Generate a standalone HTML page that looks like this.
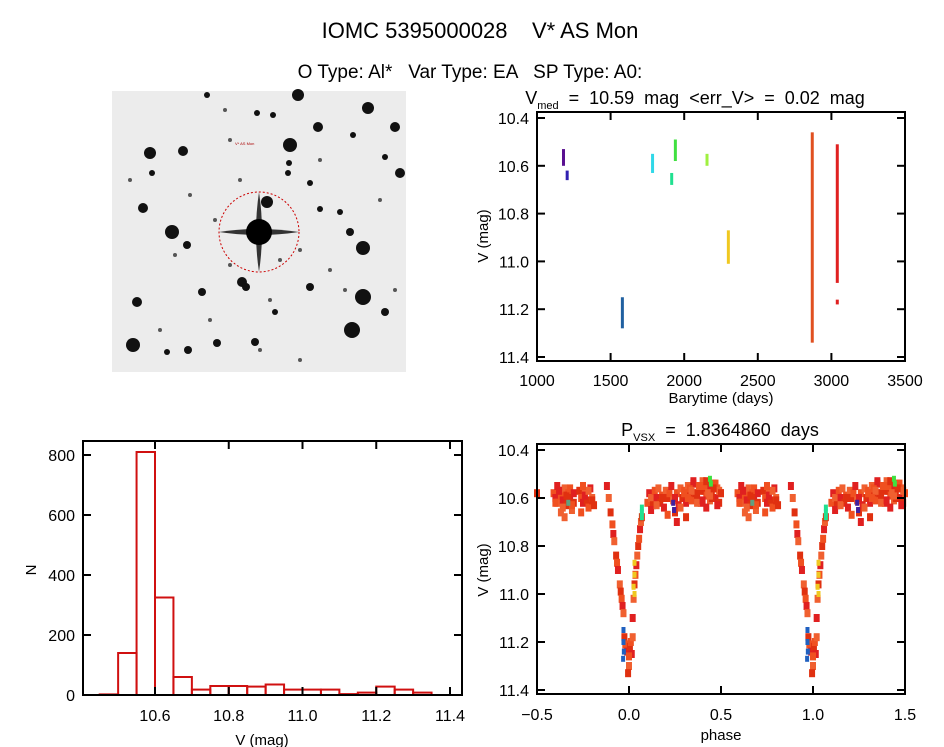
<!DOCTYPE html>
<html><head><meta charset="utf-8"><style>
html,body{margin:0;padding:0;background:#fff;}
svg{display:block;font-family:"Liberation Sans",sans-serif;}
text{white-space:pre;}
</style></head><body>
<svg id="c" width="944" height="747" viewBox="0 0 944 747" xmlns="http://www.w3.org/2000/svg">
<text x="480" y="38" font-size="22" text-anchor="middle" xml:space="preserve">IOMC 5395000028    V* AS Mon</text>
<text x="470" y="78" font-size="19" text-anchor="middle" xml:space="preserve">O Type: Al*   Var Type: EA   SP Type: A0:</text>
<g id="img"><rect x="112" y="91" width="294" height="281" fill="#ececec"/></g>
<g id="tp"></g>
<g id="hp"></g>
<g id="pp"></g>
</svg>
<script>
const starX=[298,368,290,150,183,318,395,267,172,143,242,363,363,352,133,137,202,255,400,385,187,350,310,275,167,188,217,207,257,273,289,288,310,320,340,152,385,353,246,
 225,240,190,300,330,270,210,160,380,395,230,280,320,215,175,130,345,260,300,230];
const starY=[95,108,145,153,151,127,127,202,232,208,282,248,297,330,345,302,292,342,173,312,245,232,287,312,352,350,343,95,113,115,163,173,183,209,212,173,157,135,287,
 110,180,195,250,270,300,320,330,200,290,265,260,160,220,255,180,290,350,360,140];
const starR=[6,6,7,6,5,5,5,6,7,5,5,7,8,8,7,5,4,4,5,4,4,4,4,3,3,4,4,3,3,3,3,3,3,3,3,3,3,3,4,
 2,2,2,2,2,2,2,2,2,2,2,2,2,2,2,2,2,2,2,2];
const NS="http://www.w3.org/2000/svg";
function el(t,a,p){const e=document.createElementNS(NS,t);for(const k in a)e.setAttribute(k,a[k]);p.appendChild(e);return e;}
const img=document.getElementById('img');
for(let i=0;i<starX.length;i++){
 const s=el('circle',{cx:starX[i],cy:starY[i],r:starR[i],fill:starR[i]<3?'#555':'#111'},img);
 
 
}
const cs=el('g',{},img);


el('path',{d:'M219 232 Q259 226 299 232 Q259 238 219 232Z',fill:'#333'},cs);
el('path',{d:'M259 192 Q265 232 259 272 Q253 232 259 192Z',fill:'#333'},cs);
el('circle',{cx:259,cy:232,r:13,fill:'#000'},cs);
const circ=el('circle',{cx:259,cy:232,r:40,fill:'none',stroke:'#c00','stroke-width':1,'stroke-dasharray':'2 2'},img);


el('text',{x:235,y:145,'font-size':4,fill:'#a00'},img).textContent='V* AS Mon';

const streakTime=[1180,1205,1580,1785,1915,1940,2155,2300,2870,3040,3040];
const streakMin=[10.53,10.62,11.15,10.55,10.63,10.49,10.55,10.87,10.46,10.51,11.16];
const streakMax=[10.60,10.66,11.28,10.63,10.68,10.58,10.60,11.01,11.34,11.09,11.18];
const streakColor=['#5a1090','#3020b0','#2060a0','#30d8e8','#20e090','#40e040','#a0f040','#f0c820','#e05020','#e02020','#e02020'];
const yTicks=[10.4,10.6,10.8,11.0,11.2,11.4];
const yTickLabels=['10.4','10.6','10.8','11.0','11.2','11.4'];
const tTicks=[1000,1500,2000,2500,3000,3500];

const binStart=[10.45,10.5,10.55,10.6,10.65,10.7,10.75,10.8,10.85,10.9,10.95,11.0,11.05,11.1,11.15,11.2,11.25,11.3,11.35];
const binCount=[2,140,810,325,60,18,30,30,28,35,18,18,18,3,8,28,18,8,0];
const hxTicks=[10.6,10.8,11.0,11.2,11.4];
const hyTicks=[0,200,400,600,800];

const phaseMain=[-0.5,-0.41,-0.40,-0.39,-0.38,-0.37,-0.36,-0.35,-0.34,-0.33,-0.32,-0.31,-0.30,-0.40,-0.38,-0.36,-0.34,-0.32,-0.30,-0.35,-0.33,-0.31,-0.39,-0.37,
-0.27,-0.26,-0.25,-0.24,-0.23,-0.22,-0.21,-0.20,-0.19,-0.26,-0.24,-0.22,-0.20,-0.25,
-0.12,-0.11,-0.10,-0.09,-0.085,-0.08,-0.07,-0.065,-0.06,-0.05,-0.045,-0.04,-0.035,-0.03,
-0.025,-0.02,-0.01,0.0,0.005,0.01,0.015,0.02,-0.005,0.0,
0.02,0.025,0.03,0.035,0.04,0.045,0.05,0.055,0.06,0.065,0.07,
0.10,0.11,0.12,0.13,0.14,0.15,0.16,0.17,0.18,0.19,0.20,0.21,0.22,0.23,0.24,0.25,0.26,0.27,0.28,0.29,0.30,0.31,0.32,0.33,0.34,0.35,0.36,0.37,0.38,0.39,0.40,0.41,0.42,0.43,0.44,0.45,0.46,0.47,0.48,0.49,0.50,
0.12,0.15,0.18,0.21,0.26,0.28,0.31,0.33,0.35,0.37,0.39,0.41,0.42,0.43,0.45,0.47,0.48,0.49,0.36,0.38,0.40,0.44,0.46,0.30,0.25,0.34,0.42,0.32];
const magMain=[10.58,10.58,10.60,10.62,10.57,10.59,10.61,10.56,10.63,10.58,10.60,10.65,10.62,10.62,10.57,10.64,10.59,10.56,10.58,10.68,10.60,10.63,10.55,10.66,
10.57,10.60,10.62,10.58,10.61,10.64,10.56,10.60,10.63,10.66,10.59,10.57,10.61,10.55,
10.55,10.60,10.66,10.71,10.75,10.78,10.84,10.87,10.90,10.96,10.99,11.02,11.05,11.08,
11.18,11.21,11.24,11.30,11.22,11.20,11.25,11.18,11.33,11.26,
11.10,11.02,10.96,10.92,10.88,10.84,10.80,10.77,10.73,10.70,10.68,
10.62,10.58,10.60,10.63,10.57,10.60,10.56,10.62,10.59,10.64,10.57,10.60,10.58,10.55,10.61,10.66,10.58,10.63,10.56,10.60,10.57,10.62,10.55,10.59,10.61,10.54,10.58,10.60,10.56,10.62,10.53,10.57,10.59,10.55,10.61,10.58,10.54,10.60,10.56,10.62,10.58,
10.65,10.63,10.60,10.67,10.70,10.64,10.68,10.56,10.53,10.62,10.57,10.55,10.64,10.58,10.60,10.54,10.63,10.57,10.58,10.55,10.61,10.59,10.56,10.58,10.60,10.57,10.53,10.60];
const phaseExtra=[0.07,0.07,0.07,0.03,0.03,0.025,0.03,-0.03,-0.03,-0.028,-0.032,0.24,0.245,0.44,0.445,-0.33];
const magExtra=[10.64,10.66,10.68,10.87,10.92,10.97,11.00,11.15,11.20,11.24,11.27,10.62,10.65,10.52,10.54,10.62];
const extraColor=['#20e090','#20e090','#20e090','#f0c820','#f0c820','#f0c820','#f0c820','#2060c0','#2060c0','#2060c0','#2060c0','#4020a0','#4020a0','#40e040','#40e040','#60a080'];
const pxTicks=[-0.5,0.0,0.5,1.0,1.5];
const pxTickLabels=['\u22120.5','0.0','0.5','1.0','1.5'];

function frame(g,x0,y0,x1,y1){el('rect',{x:x0,y:y0,width:x1-x0,height:y1-y0,fill:'none',stroke:'#000','stroke-width':2},g);}
function txt(g,x,y,s,size,anchor,name,rot){const t=el('text',{x:x,y:y,'font-size':size,'text-anchor':anchor||'middle'},g);if(rot)t.setAttribute('transform','rotate(-90 '+x+' '+y+')');t.textContent=s;return t;}

(function(){
 const g=document.getElementById('tp');
 const X0=537,X1=905,Y0=112,Y1=361;
 const sx=v=>X0+(v-1000)/2500*(X1-X0), sy=v=>118+(v-10.4)/1.0*(357-118);
 for(let i=0;i<streakTime.length;i++){
  const r=el('rect',{x:sx(streakTime[i])-1.5,y:sy(streakMin[i]),width:3,height:Math.max(2,sy(streakMax[i])-sy(streakMin[i])),fill:streakColor[i]},g);
  
  
 }
 frame(g,X0,Y0,X1,Y1);
 yTicks.forEach((v,i)=>{el('line',{x1:X0,x2:X0+8,y1:sy(v),y2:sy(v),stroke:'#000','stroke-width':2},g);el('line',{x1:X1,x2:X1-8,y1:sy(v),y2:sy(v),stroke:'#000','stroke-width':2},g);txt(g,X0-8,sy(v)+6,yTickLabels[i],16,'end','y-tick-label');});
 tTicks.forEach(v=>{el('line',{x1:sx(v),x2:sx(v),y1:Y1,y2:Y1-8,stroke:'#000','stroke-width':2},g);el('line',{x1:sx(v),x2:sx(v),y1:Y0,y2:Y0+8,stroke:'#000','stroke-width':2},g);txt(g,sx(v),Y1+25,String(v),16,'middle','x-tick-label');});
 txt(g,721,403,'Barytime (days)',15,'middle','x-axis-title');
 txt(g,488,236,'V (mag)',15,'middle','y-axis-title',true);
 const t=txt(g,695,104,'',18,'middle','panel-title');
 t.innerHTML='V<tspan font-size="11" dy="5">med</tspan><tspan dy="-5">  =  10.59  mag  &lt;err_V&gt;  =  0.02  mag</tspan>';
})();

(function(){
 const g=document.getElementById('hp');
 const X0=83,X1=462,Y0=441,Y1=695;
 const sx=v=>155+(v-10.6)/0.8*(450-155), sy=v=>695-v/800*240;
 for(let i=0;i<binStart.length;i++){
  const r=el('rect',{x:sx(binStart[i]),y:sy(binCount[i]),width:sx(binStart[i]+0.05)-sx(binStart[i]),height:695-sy(binCount[i]),fill:'none',stroke:'#d01010','stroke-width':2},g);
  
  
 }
 frame(g,X0,Y0,X1,Y1);
 hyTicks.forEach(v=>{el('line',{x1:X0,x2:X0+8,y1:sy(v),y2:sy(v),stroke:'#000','stroke-width':2},g);el('line',{x1:X1,x2:X1-8,y1:sy(v),y2:sy(v),stroke:'#000','stroke-width':2},g);txt(g,X0-8,sy(v)+6,String(v),16,'end','y-tick-label');});
 hxTicks.forEach(v=>{el('line',{x1:sx(v),x2:sx(v),y1:Y1,y2:Y1-8,stroke:'#000','stroke-width':2},g);el('line',{x1:sx(v),x2:sx(v),y1:Y0,y2:Y0+8,stroke:'#000','stroke-width':2},g);txt(g,sx(v),Y1+26,v.toFixed(1),16,'middle','x-tick-label');});
 txt(g,262,745,'V (mag)',15,'middle','x-axis-title');
 txt(g,36,570,'N',15,'middle','y-axis-title',true);
})();

(function(){
 const g=document.getElementById('pp');
 const X0=537,X1=905,Y0=444,Y1=694;
 const sx=v=>X0+(v+0.5)/2*(X1-X0), sy=v=>450+(v-10.4)/1.0*(690-450);
 const cols=['#e03010','#f05020','#e02020','#f06030'];
 for(let k=0;k<2;k++){
  for(let i=0;i<phaseMain.length;i++){
   const p=phaseMain[i]+k; if(p<-0.5||p>1.5)continue;
   const d=el('rect',{x:sx(p)-3,y:sy(magMain[i])-4,width:6,height:8,fill:cols[i%4]},g);
   
   
  }
  for(let i=0;i<phaseExtra.length;i++){
   const p=phaseExtra[i]+k;
   const d=el('rect',{x:sx(p)-2,y:sy(magExtra[i])-3,width:4,height:6,fill:extraColor[i]},g);
   
   
  }
 }
 frame(g,X0,Y0,X1,Y1);
 yTicks.forEach((v,i)=>{el('line',{x1:X0,x2:X0+8,y1:sy(v),y2:sy(v),stroke:'#000','stroke-width':2},g);el('line',{x1:X1,x2:X1-8,y1:sy(v),y2:sy(v),stroke:'#000','stroke-width':2},g);txt(g,X0-8,sy(v)+6,yTickLabels[i],16,'end','y-tick-label');});
 pxTicks.forEach((v,i)=>{el('line',{x1:sx(v),x2:sx(v),y1:Y1,y2:Y1-8,stroke:'#000','stroke-width':2},g);el('line',{x1:sx(v),x2:sx(v),y1:Y0,y2:Y0+8,stroke:'#000','stroke-width':2},g);txt(g,sx(v),Y1+26,pxTickLabels[i],16,'middle','x-tick-label');});
 txt(g,721,740,'phase',15,'middle','x-axis-title');
 txt(g,488,570,'V (mag)',15,'middle','y-axis-title',true);
 const t=txt(g,720,436,'',18,'middle','panel-title');
 t.innerHTML='P<tspan font-size="11" dy="5">VSX</tspan><tspan dy="-5">  =  1.8364860  days</tspan>';
})();
</script>
</body></html>
